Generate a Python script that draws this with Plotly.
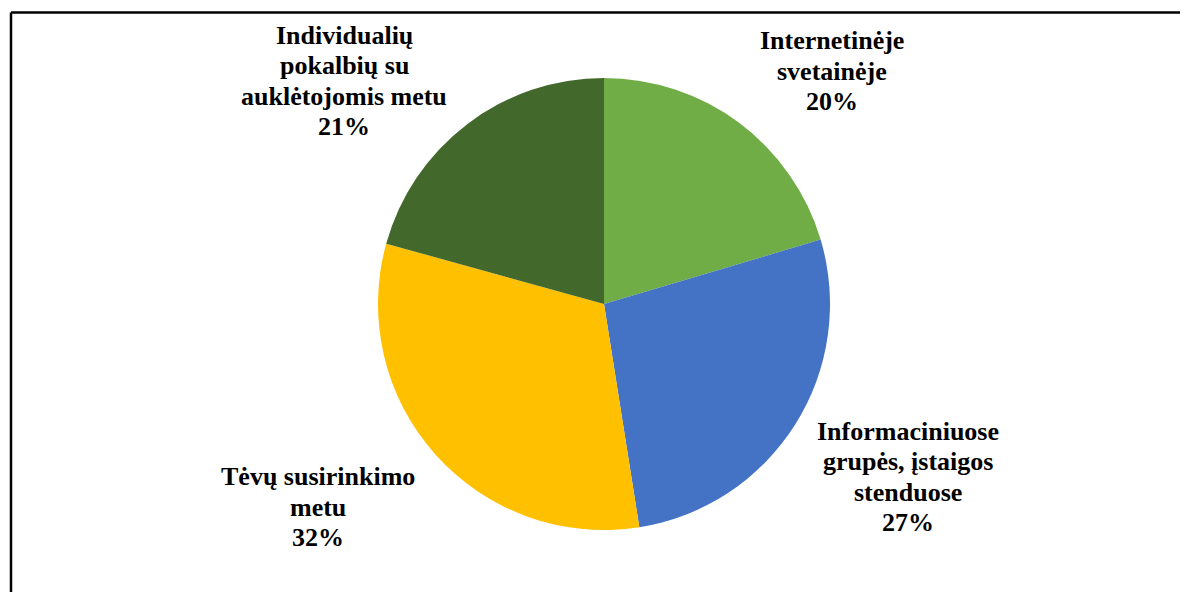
import plotly.graph_objects as go

categories = [
    "Internetinėje svetainėje",
    "Informaciniuose grupės, įstaigos stenduose",
    "Tėvų susirinkimo metu",
    "Individualių pokalbių su auklėtojomis metu",
]
values = [20.4, 27.1, 31.8, 20.7]
label_lines = [
    ["Internetinėje", "svetainėje"],
    ["Informaciniuose", "grupės, įstaigos", "stenduose"],
    ["Tėvų susirinkimo", "metu"],
    ["Individualių", "pokalbių su", "auklėtojomis metu"],
]
colors = ["#70AD47", "#4472C4", "#FFC000", "#43682B"]

# the page body has an 8px margin; work in reference pixel coordinates and shift
OFF = 8
W, H = 1188 - OFF, 592 - OFF
cx, cy, r = 604 - OFF, 304 - OFF, 226

fig = go.Figure(go.Pie(
    labels=categories,
    values=values,
    sort=False,
    direction="clockwise",
    rotation=0,
    marker=dict(colors=colors, line=dict(width=0)),
    textinfo="none",
    hoverinfo="label+percent",
    domain=dict(x=[(cx - r) / W, (cx + r) / W], y=[(H - cy - r) / H, (H - cy + r) / H]),
    showlegend=False,
))

# label block centers (reference pixel coordinates)
label_pos = [(832, 71), (908, 477), (318, 507), (344, 81)]
total = sum(values)
annotations = []
line_gap = 30.5
for lines, v, (px, py) in zip(label_lines, values, label_pos):
    all_lines = lines + [f"{round(100 * v / total)}%"]
    n = len(all_lines)
    for i, t in enumerate(all_lines):
        y = py - OFF + (i - (n - 1) / 2) * line_gap
        annotations.append(dict(
            x=(px - OFF) / W, y=1 - y / H, xref="paper", yref="paper",
            text=f"<b>{t}</b>", showarrow=False,
            xanchor="center", yanchor="middle",
            font=dict(family="Liberation Serif, Times New Roman, serif", size=26, color="#000000"),
        ))

bx, by = 11 - OFF, 12.5 - OFF
shapes = [
    dict(type="line", xref="paper", yref="paper", x0=bx / W, x1=1, y0=1 - by / H, y1=1 - by / H,
         line=dict(color="#000000", width=2.5)),
    dict(type="line", xref="paper", yref="paper", x0=bx / W, x1=bx / W, y0=0, y1=1 - by / H,
         line=dict(color="#000000", width=2.5)),
]

fig.update_layout(
    width=W, height=H,
    margin=dict(l=0, r=0, t=0, b=0),
    paper_bgcolor="#FFFFFF",
    plot_bgcolor="#FFFFFF",
    annotations=annotations,
    shapes=shapes,
)

fig.write_html("out.html")
